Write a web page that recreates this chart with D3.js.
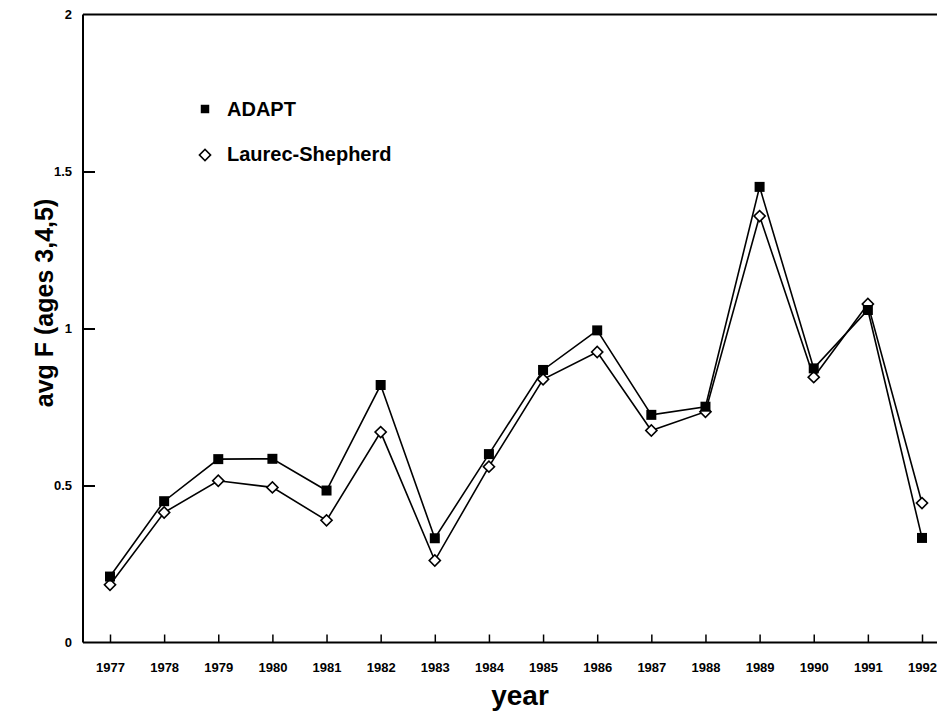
<!DOCTYPE html>
<html>
<head>
<meta charset="utf-8">
<script src="https://cdn.jsdelivr.net/npm/d3@7"></script>
<style>
  body { margin: 0; background: #fff; }
  svg { font-family: "Liberation Sans", Arial, sans-serif; font-weight: bold; }
  .tick text { font-size: 13px; font-weight: bold; fill: #000; }
  .tick line { stroke: #000; }
</style>
</head>
<body>
<svg width="937" height="716"></svg>
<script>
const years = [1977,1978,1979,1980,1981,1982,1983,1984,1985,1986,1987,1988,1989,1990,1991,1992];
const adapt = [0.21,0.45,0.584,0.585,0.484,0.82,0.332,0.60,0.868,0.994,0.725,0.751,1.451,0.873,1.059,0.333];
const laurec = [0.184,0.414,0.515,0.494,0.389,0.67,0.261,0.56,0.838,0.925,0.675,0.735,1.358,0.845,1.078,0.444];
const yTicks = [0, 0.5, 1, 1.5, 2];
const yTickLabels = ['0', '0.5', '1', '1.5', '2'];
const seriesNames = ['ADAPT', 'Laurec-Shepherd'];

function Start(){
    const svg = d3.select('svg');
    const left = 83, right = 937, top = 14.5, bottom = 642.5;

    const x = d3.scaleLinear().domain([1977, 1992]).range([110, 922]);
    const y = d3.scaleLinear().domain([0, 2]).range([bottom, top]);

    // frame: left, top, bottom
    svg.append('line').attr('x1', left).attr('x2', left).attr('y1', top).attr('y2', bottom)
        .attr('stroke', '#000').attr('stroke-width', 2);
    svg.append('line').attr('x1', left).attr('x2', right).attr('y1', top).attr('y2', top)
        .attr('stroke', '#000').attr('stroke-width', 2);
    svg.append('line').attr('x1', left).attr('x2', right).attr('y1', bottom).attr('y2', bottom)
        .attr('stroke', '#000').attr('stroke-width', 2);

    const yAxis = d3.axisLeft(y)
        .tickValues(yTicks)
        .tickFormat((d, i) => yTickLabels[i])
        .tickSize(-12)
        .tickSizeOuter(0)
        .tickPadding(11);
    const yG = svg.append('g').attr('transform', `translate(${left},0)`).call(yAxis);
    yG.select('.domain').remove();
    yG.selectAll('.tick line').attr('stroke-width', 2);
    yG.selectAll('.tick').filter(d => d === 0 || d === 2).select('line').remove();

    const xAxis = d3.axisBottom(x)
        .tickValues(years)
        .tickFormat(d3.format('d'))
        .tickSize(-8)
        .tickSizeOuter(0)
        .tickPadding(20);
    const xG = svg.append('g').attr('transform', `translate(0,${bottom})`).call(xAxis);
    xG.select('.domain').remove();
    xG.selectAll('.tick line').attr('stroke-width', 1.5);

    // axis titles
    svg.append('text')
        .attr('transform', 'translate(53,303) rotate(-90)')
        .attr('text-anchor', 'middle')
        .style('font-size', '25px')
        .text('avg F (ages 3,4,5)');
    svg.append('text')
        .attr('x', 520).attr('y', 705)
        .attr('text-anchor', 'middle')
        .style('font-size', '28px')
        .text('year');

    const line = d3.line().x(d => x(d[0])).y(d => y(d[1]));
    const adaptData = years.map((yr, i) => [yr, adapt[i]]);
    const laurecData = years.map((yr, i) => [yr, laurec[i]]);

    [laurecData, adaptData].forEach(data => {
        svg.append('path').datum(data)
            .attr('d', line)
            .attr('fill', 'none')
            .attr('stroke', '#000')
            .attr('stroke-width', 1.6);
    });

    const square = d3.symbol().type(d3.symbolSquare).size(100);
    const diamond = d3.symbol().type(d3.symbolSquare).size(62);

    svg.append('g').selectAll('path').data(laurecData)
        .enter().append('path')
            .attr('d', diamond)
            .attr('transform', d => `translate(${x(d[0])},${y(d[1])}) rotate(45)`)
            .attr('fill', '#fff')
            .attr('stroke', '#000')
            .attr('stroke-width', 1.6);

    svg.append('g').selectAll('path').data(adaptData)
        .enter().append('path')
            .attr('d', square)
            .attr('transform', d => `translate(${x(d[0])},${y(d[1])})`)
            .attr('fill', '#000');

    // legend
    const legend = svg.append('g');
    legend.append('path')
        .attr('d', d3.symbol().type(d3.symbolSquare).size(72))
        .attr('transform', 'translate(205,109)')
        .attr('fill', '#000');
    legend.append('path')
        .attr('d', diamond)
        .attr('transform', 'translate(205,155) rotate(45)')
        .attr('fill', '#fff').attr('stroke', '#000').attr('stroke-width', 1.6);
    legend.selectAll('text').data(seriesNames)
        .enter().append('text')
            .attr('x', 227)
            .attr('y', (d, i) => 116 + i * 45)
            .style('font-size', '20px')
            .text(d => d);
}
Start();
</script>
</body>
</html>
